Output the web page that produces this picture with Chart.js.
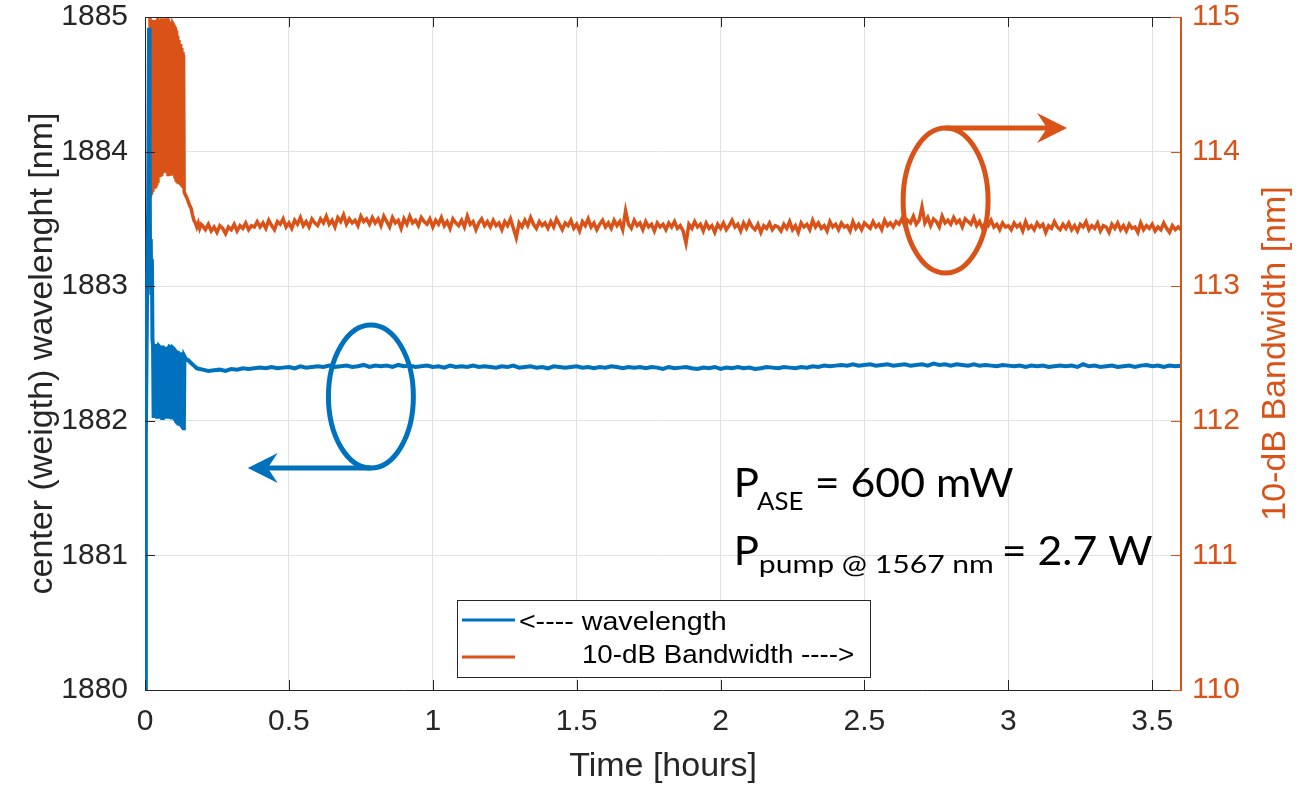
<!DOCTYPE html>
<html><head><meta charset="utf-8">
<script src="https://cdn.jsdelivr.net/npm/chart.js@4.4.0/dist/chart.umd.min.js"></script>
<style>html,body{margin:0;padding:0;background:#fff;}#wrap{width:1302px;height:787px;}</style>
</head><body><div id="wrap"><canvas id="c" width="1302" height="787"></canvas></div>
<script>
// ---------- DATA ----------
const timeWL = [0,0.003,0.007,0.011,0.014,0.016,0.018,0.020,0.022,0.024,0.026,
0.028,0.030,0.032,0.034,0.036,0.038,0.040,0.042,0.044,0.046,
0.050,0.052,0.054,0.056,0.058,0.060,0.062,0.064,0.066,0.068,0.070,0.072,0.074,0.076,0.078,0.080,0.082,0.084,
0.091,0.093,0.095,0.097,
0.102,0.104,0.106,0.108,0.110,0.112,0.114,0.116,0.118,0.120,0.122,0.124,0.126,0.128,0.130,0.132,0.134,0.135,
0.137,0.142,0.150,0.160,0.170,0.180,0.190,
0.20,0.22,0.24,0.26,0.28,0.30,0.32,0.34,0.36,0.38,0.40,0.42,0.44,0.46,0.48,0.50,0.52,0.54,0.56,0.58,0.60,0.62,0.64,0.66,0.68,
0.70,0.72,0.74,0.76,0.78,0.80,0.82,0.84,0.86,0.88,0.90,0.92,0.94,0.96,0.98,1.00,1.02,1.04,1.06,1.08,1.10,1.12,1.14,1.16,1.18,
1.20,1.22,1.24,1.26,1.28,1.30,1.32,1.34,1.36,1.38,1.40,1.42,1.44,1.46,1.48,1.50,1.52,1.54,1.56,1.58,1.60,1.62,1.64,1.66,1.68,
1.70,1.72,1.74,1.76,1.78,1.80,1.82,1.84,1.86,1.88,1.90,1.92,1.94,1.96,1.98,2.00,2.02,2.04,2.06,2.08,2.10,2.12,2.14,2.16,2.18,
2.20,2.22,2.24,2.26,2.28,2.30,2.32,2.34,2.36,2.38,2.40,2.42,2.44,2.46,2.48,2.50,2.52,2.54,2.56,2.58,2.60,2.62,2.64,2.66,2.68,
2.70,2.72,2.74,2.76,2.78,2.80,2.82,2.84,2.86,2.88,2.90,2.92,2.94,2.96,2.98,3.00,3.02,3.04,3.06,3.08,3.10,3.12,3.14,3.16,3.18,
3.20,3.22,3.24,3.26,3.28,3.30,3.32,3.34,3.36,3.38,3.40,3.42,3.44,3.46,3.48,3.50,3.52,3.54,3.56,3.58,3.60];

const wavelength = [1879.0,1881.9,1882.9,1883.6,1884.92,1884.0,1883.0,1883.35,1882.95,1883.2,1882.6,
1882.56,1882.02,1882.57,1882.03,1882.56,1882.04,1882.57,1882.03,1882.55,1882.56,
1882.55,1882.04,1882.56,1882.03,1882.55,1882.02,1882.56,1882.03,1882.55,1882.02,1882.55,1882.03,1882.54,1882.02,1882.55,1882.03,1882.54,1882.55,
1882.54,1882.01,1882.53,1882.54,
1882.53,1882.00,1882.53,1882.00,1882.52,1881.99,1882.52,1881.98,1882.51,1881.97,1882.51,1881.96,1882.50,1881.95,1882.50,1881.94,1882.49,1881.93,
1882.48,1882.46,1882.45,1882.43,1882.41,1882.39,1882.385,
1882.38,1882.37,1882.375,1882.38,1882.37,1882.385,1882.38,1882.39,1882.385,1882.39,1882.395,1882.39,1882.40,1882.39,1882.395,1882.40,1882.39,1882.405,1882.395,1882.40,1882.405,1882.40,1882.41,1882.40,1882.405,
1882.41,1882.40,1882.405,1882.415,1882.40,1882.41,1882.405,1882.41,1882.40,1882.415,1882.405,1882.41,1882.40,1882.405,1882.41,1882.40,1882.405,1882.395,1882.41,1882.40,1882.405,1882.40,1882.41,1882.40,1882.405,
1882.40,1882.395,1882.405,1882.40,1882.41,1882.395,1882.40,1882.405,1882.395,1882.40,1882.39,1882.405,1882.40,1882.395,1882.40,1882.405,1882.395,1882.40,1882.39,1882.40,1882.395,1882.405,1882.40,1882.39,1882.40,
1882.395,1882.40,1882.39,1882.40,1882.395,1882.385,1882.40,1882.39,1882.395,1882.40,1882.39,1882.385,1882.395,1882.39,1882.40,1882.385,1882.395,1882.39,1882.40,1882.39,1882.395,1882.385,1882.39,1882.40,1882.395,
1882.39,1882.40,1882.395,1882.39,1882.40,1882.395,1882.405,1882.40,1882.41,1882.405,1882.41,1882.415,1882.41,1882.42,1882.41,1882.415,1882.42,1882.41,1882.415,1882.42,1882.41,1882.415,1882.42,1882.41,1882.415,
1882.42,1882.41,1882.425,1882.415,1882.42,1882.41,1882.42,1882.415,1882.41,1882.42,1882.41,1882.415,1882.41,1882.405,1882.415,1882.41,1882.405,1882.41,1882.40,1882.41,1882.405,1882.41,1882.40,1882.405,1882.41,
1882.405,1882.41,1882.40,1882.42,1882.405,1882.41,1882.40,1882.405,1882.41,1882.40,1882.405,1882.41,1882.40,1882.41,1882.415,1882.405,1882.41,1882.40,1882.41,1882.405,1882.41];

const timeBW = [0.017,0.019,0.021,0.023,0.025,0.027,0.029,0.031,0.033,0.035,0.037,0.039,0.041,0.043,0.045,0.046,
0.050,0.052,0.054,0.056,0.058,0.060,0.062,0.064,0.066,0.068,0.070,0.072,0.074,0.076,0.078,0.080,0.082,0.084,
0.091,0.093,0.095,0.097,
0.102,0.104,0.106,0.108,0.110,0.112,0.114,0.116,0.118,0.120,0.122,0.124,0.126,0.128,0.130,0.132,0.134,0.136,
0.140,0.145,0.150,0.155,0.160,0.165,0.170,0.175,0.180,0.185,0.190,0.195,
0.20,0.21,0.22,0.23,0.24,0.25,0.26,0.27,0.28,0.29,0.30,0.31,0.32,0.33,0.34,0.35,0.36,0.37,0.38,0.39,
0.40,0.41,0.42,0.43,0.44,0.45,0.46,0.47,0.48,0.49,0.50,0.51,0.52,0.53,0.54,0.55,0.56,0.57,0.58,0.59,
0.60,0.61,0.62,0.63,0.64,0.65,0.66,0.67,0.68,0.69,0.70,0.71,0.72,0.73,0.74,0.75,0.76,0.77,0.78,0.79,
0.80,0.81,0.82,0.83,0.84,0.85,0.86,0.87,0.88,0.89,0.90,0.91,0.92,0.93,0.94,0.95,0.96,0.97,0.98,0.99,
1.00,1.01,1.02,1.03,1.04,1.05,1.06,1.07,1.08,1.09,1.10,1.11,1.12,1.13,1.14,1.15,1.16,1.17,1.18,1.19,
1.20,1.21,1.22,1.23,1.24,1.25,1.26,1.27,1.28,1.29,1.30,1.31,1.32,1.33,1.34,1.35,1.36,1.37,1.38,1.39,
1.40,1.41,1.42,1.43,1.44,1.45,1.46,1.47,1.48,1.49,1.50,1.51,1.52,1.53,1.54,1.55,1.56,1.57,1.58,1.59,
1.60,1.61,1.62,1.63,1.64,1.65,1.66,1.67,1.68,1.69,1.70,1.71,1.72,1.73,1.74,1.75,1.76,1.77,1.78,1.79,
1.80,1.81,1.82,1.83,1.84,1.85,1.86,1.87,1.88,1.89,1.90,1.91,1.92,1.93,1.94,1.95,1.96,1.97,1.98,1.99,
2.00,2.01,2.02,2.03,2.04,2.05,2.06,2.07,2.08,2.09,2.10,2.11,2.12,2.13,2.14,2.15,2.16,2.17,2.18,2.19,
2.20,2.21,2.22,2.23,2.24,2.25,2.26,2.27,2.28,2.29,2.30,2.31,2.32,2.33,2.34,2.35,2.36,2.37,2.38,2.39,
2.40,2.41,2.42,2.43,2.44,2.45,2.46,2.47,2.48,2.49,2.50,2.51,2.52,2.53,2.54,2.55,2.56,2.57,2.58,2.59,
2.60,2.61,2.62,2.63,2.64,2.65,2.66,2.67,2.68,2.69,2.70,2.71,2.72,2.73,2.74,2.75,2.76,2.77,2.78,2.79,
2.80,2.81,2.82,2.83,2.84,2.85,2.86,2.87,2.88,2.89,2.90,2.91,2.92,2.93,2.94,2.95,2.96,2.97,2.98,2.99,
3.00,3.01,3.02,3.03,3.04,3.05,3.06,3.07,3.08,3.09,3.10,3.11,3.12,3.13,3.14,3.15,3.16,3.17,3.18,3.19,
3.20,3.21,3.22,3.23,3.24,3.25,3.26,3.27,3.28,3.29,3.30,3.31,3.32,3.33,3.34,3.35,3.36,3.37,3.38,3.39,
3.40,3.41,3.42,3.43,3.44,3.45,3.46,3.47,3.48,3.49,3.50,3.51,3.52,3.53,3.54,3.55,3.56,3.57,3.58,3.59,
3.60];

const bandwidth = [115.3,113.66,114.96,113.68,114.97,113.70,114.98,113.72,114.97,113.74,114.98,113.76,114.97,113.78,114.98,114.97,
114.96,113.81,114.98,113.83,114.99,113.85,114.98,113.86,114.99,113.86,114.98,113.85,114.99,113.84,114.98,113.83,114.97,114.96,
114.95,113.82,114.94,114.95,
114.93,113.80,114.92,113.79,114.90,113.78,114.86,113.77,114.83,113.76,114.80,113.75,114.77,113.74,114.74,113.73,114.72,113.70,
113.68,113.66,113.63,113.60,113.58,113.53,113.49,113.47,113.44,113.47,113.43,113.46,
113.45,113.42,113.46,113.41,113.44,113.40,113.45,113.43,113.39,113.44,113.42,113.46,113.41,113.45,113.43,113.47,113.42,113.45,113.44,113.48,
113.44,113.47,113.43,113.49,113.45,113.42,113.48,113.46,113.50,113.44,113.47,113.43,113.49,113.46,113.51,113.45,113.48,113.44,113.50,113.47,
113.45,113.50,113.47,113.52,113.46,113.49,113.44,113.51,113.48,113.53,113.46,113.50,113.47,113.49,113.45,113.52,113.48,113.50,113.46,113.51,
113.47,113.50,113.45,113.52,113.48,113.44,113.51,113.47,113.49,113.43,113.50,113.46,113.52,113.47,113.49,113.45,113.51,113.48,113.46,113.50,
113.44,113.49,113.46,113.51,113.45,113.48,113.43,113.50,113.47,113.45,113.49,113.44,113.52,113.46,113.48,113.42,113.47,113.50,113.45,113.48,
113.44,113.49,113.45,113.47,113.42,113.48,113.45,113.50,113.43,113.36,113.47,113.44,113.49,113.45,113.51,113.46,113.43,113.48,113.45,113.47,
113.43,113.48,113.44,113.50,113.46,113.42,113.47,113.45,113.49,113.43,113.46,113.41,113.48,113.45,113.50,113.44,113.47,113.42,113.46,113.49,
113.44,113.47,113.43,113.49,113.45,113.48,113.42,113.56,113.46,113.43,113.49,113.45,113.47,113.42,113.48,113.44,113.46,113.41,113.47,113.44,
113.46,113.42,113.47,113.44,113.48,113.43,113.45,113.41,113.32,113.46,113.43,113.48,113.44,113.46,113.41,113.47,113.43,113.45,113.40,113.46,
113.43,113.47,113.42,113.45,113.49,113.44,113.46,113.41,113.47,113.43,113.48,113.44,113.42,113.46,113.40,113.45,113.43,113.47,113.42,113.45,
113.44,113.41,113.46,113.43,113.48,113.42,113.45,113.40,113.47,113.44,113.46,113.42,113.49,113.44,113.47,113.43,113.45,113.41,113.48,113.44,
113.46,113.42,113.47,113.44,113.45,113.41,113.48,113.43,113.46,113.42,113.47,113.45,113.43,113.48,113.44,113.46,113.42,113.49,113.45,113.47,
113.44,113.48,113.46,113.50,113.45,113.49,113.47,113.52,113.46,113.49,113.59,113.47,113.51,113.45,113.50,113.48,113.44,113.52,113.47,113.49,
113.46,113.51,113.47,113.49,113.44,113.50,113.48,113.46,113.51,113.45,113.48,113.43,113.47,113.45,113.49,113.44,113.46,113.42,113.47,113.44,
113.45,113.42,113.47,113.44,113.46,113.41,113.48,113.43,113.45,113.42,113.47,113.44,113.46,113.40,113.45,113.43,113.48,113.44,113.42,113.46,
113.43,113.47,113.42,113.45,113.41,113.46,113.44,113.48,113.42,113.45,113.43,113.47,113.41,113.45,113.44,113.40,113.46,113.43,113.47,113.42,
113.45,113.41,113.46,113.43,113.44,113.40,113.47,113.42,113.45,113.43,113.46,113.41,113.44,113.42,113.47,113.43,113.40,113.45,113.42,113.44,
113.42];

const xTicks = [0,0.5,1,1.5,2,2.5,3,3.5];
const yLeftTicks = [1880,1881,1882,1883,1884,1885];
const yRightTicks = [110,111,112,113,114,115];
const seriesNames = ['<---- wavelength','10-dB Bandwidth ---->'];

// ---------- STYLE ----------
const BLUE='#0072BD', ORANGE='#D95319', AXIS='#262626', GRID='#e2e2e2';
const SANS='"Liberation Sans", Arial, sans-serif';

const frameTicks = {
  id:'frameTicks',
  afterDatasetsDraw(chart){
    const {ctx, chartArea:a, scales:{x,y,y1}} = chart;
    ctx.save();
    ctx.lineWidth=1; ctx.strokeStyle=AXIS;
    ctx.beginPath();
    xTicks.forEach(v=>{const p=Math.round(x.getPixelForValue(v))+0.5;
      ctx.moveTo(p,a.bottom); ctx.lineTo(p,a.bottom-10);
      ctx.moveTo(p,a.top); ctx.lineTo(p,a.top+10);});
    yLeftTicks.forEach(v=>{const p=Math.round(y.getPixelForValue(v))+0.5;
      ctx.moveTo(a.left,p); ctx.lineTo(a.left+10,p);});
    ctx.moveTo(a.left,Math.round(a.top)+0.5); ctx.lineTo(a.right,Math.round(a.top)+0.5);
    ctx.stroke();
    ctx.strokeStyle=ORANGE; ctx.beginPath();
    yRightTicks.forEach(v=>{const p=Math.round(y1.getPixelForValue(v))+0.5;
      ctx.moveTo(a.right,p); ctx.lineTo(a.right-10,p);});
    ctx.moveTo(Math.round(a.right)-0.5,a.top); ctx.lineTo(Math.round(a.right)-0.5,a.bottom);
    ctx.stroke();
    ctx.restore();
  }
};

function fitText(ctx, text, x, baseline, font, inkWidth){
  ctx.font = font;
  const m = ctx.measureText(text);
  const w = m.actualBoundingBoxLeft + m.actualBoundingBoxRight;
  const s = inkWidth / w;
  ctx.save();
  ctx.translate(x + m.actualBoundingBoxLeft*s, baseline);
  ctx.scale(s,1);
  ctx.fillText(text,0,0);
  ctx.restore();
}
function arrowHead(ctx,tipX,tipY,dir,len,half,notch){
  ctx.beginPath();
  ctx.moveTo(tipX,tipY);
  ctx.lineTo(tipX-dir*len,tipY-half);
  ctx.lineTo(tipX-dir*notch,tipY);
  ctx.lineTo(tipX-dir*len,tipY+half);
  ctx.closePath(); ctx.fill();
}
function ringArrow(ctx, xs, ys, ring, color, fromTop, tipT){
  const cx=xs.getPixelForValue(ring.t), cy=ys.getPixelForValue(ring.v);
  const rx=xs.getPixelForValue(ring.t+ring.dt)-cx, ry=cy-ys.getPixelForValue(ring.v+ring.dv);
  ctx.save();
  ctx.strokeStyle=color; ctx.fillStyle=color; ctx.lineWidth=5;
  ctx.beginPath(); ctx.ellipse(cx,cy,rx,ry,0,0,Math.PI*2); ctx.stroke();
  const ay = fromTop ? cy-ry : cy+ry;
  const tip = xs.getPixelForValue(tipT);
  const dir = tip>cx?1:-1;
  ctx.beginPath(); ctx.moveTo(cx,ay); ctx.lineTo(tip-dir*20,ay); ctx.stroke();
  arrowHead(ctx,tip,ay,dir,30,15,20);
  ctx.restore();
}

const notes = {
  id:'notes',
  afterDraw(chart){
    const {ctx, chartArea:a, scales:{x,y,y1}} = chart;
    ringArrow(ctx,x,y,{t:0.785,v:1882.18,dt:0.1476,dv:0.531},BLUE,false,0.357);
    ringArrow(ctx,x,y1,{t:2.782,v:113.637,dt:0.1476,dv:0.539},ORANGE,true,3.204);

    // annotation text
    ctx.save();
    ctx.fillStyle='#000'; ctx.textBaseline='alphabetic';
    const L=a.left;
    const BIG='40px Lato', SUB='25px Lato';
    fitText(ctx,'P',L+592,497,BIG,21);
    fitText(ctx,'ASE',L+612,510,SUB,46);
    fitText(ctx,'= 600 mW',L+673,497,BIG,195);
    fitText(ctx,'P',L+592,565,BIG,21);
    fitText(ctx,'pump @ 1567 nm',L+615,573,SUB,232);
    fitText(ctx,'= 2.7 W',L+860,565,BIG,147);
    ctx.restore();

    // legend
    ctx.save();
    const lx=L+312, ly=a.top+583, lw=413, lh=77;
    ctx.fillStyle='#fff'; ctx.fillRect(lx,ly,lw,lh);
    ctx.strokeStyle=AXIS; ctx.lineWidth=1; ctx.strokeRect(lx+0.5,ly+0.5,lw,lh);
    ctx.lineWidth=3;
    ctx.strokeStyle=BLUE; ctx.beginPath(); ctx.moveTo(lx+5,ly+20); ctx.lineTo(lx+58,ly+20); ctx.stroke();
    ctx.strokeStyle=ORANGE; ctx.beginPath(); ctx.moveTo(lx+5,ly+57); ctx.lineTo(lx+58,ly+57); ctx.stroke();
    ctx.fillStyle='#000'; ctx.textBaseline='alphabetic';
    fitText(ctx,seriesNames[0],lx+63,ly+30,'26px '+SANS,205);
    fitText(ctx,seriesNames[1],lx+126,ly+63,'26px '+SANS,270);
    ctx.restore();

    // right axis title (reads bottom-to-top)
    ctx.save();
    ctx.translate(a.right+95,(a.top+a.bottom)/2);
    ctx.rotate(-Math.PI/2);
    ctx.fillStyle=ORANGE; ctx.font='34px '+SANS; ctx.textAlign='center'; ctx.textBaseline='middle';
    ctx.fillText('10-dB Bandwidth [nm]',0,0);
    ctx.restore();
  }
};

const ptsWL = timeWL.map((t,i)=>({x:t,y:wavelength[i]}));
const ptsBW = timeBW.map((t,i)=>({x:t,y:bandwidth[i]}));

function fixV(w){ return s=>{ s.width=w; s.paddingTop=0; s.paddingBottom=0; }; }

new Chart(document.getElementById('c'),{
  type:'line',
  data:{datasets:[
    {label:seriesNames[0],data:ptsWL,borderColor:BLUE,backgroundColor:BLUE,borderWidth:4,pointRadius:0,tension:0,yAxisID:'y'},
    {label:seriesNames[1],data:ptsBW,borderColor:ORANGE,backgroundColor:ORANGE,borderWidth:3.5,pointRadius:0,tension:0,yAxisID:'y1'}
  ]},
  options:{
    responsive:false, animation:false, devicePixelRatio:1,
    layout:{padding:{top:17,left:0,right:0,bottom:0}},
    plugins:{legend:{display:false},tooltip:{enabled:false}},
    scales:{
      x:{type:'linear',min:0,max:3.6,
        afterBuildTicks:s=>{s.ticks=xTicks.map(v=>({value:v}));},
        afterFit:s=>{s.height=97; s.paddingLeft=0; s.paddingRight=0;},
        ticks:{font:{family:SANS,size:30},color:AXIS,padding:14,maxRotation:0,autoSkip:false,callback:v=>String(v)},
        grid:{color:GRID,drawTicks:false,lineWidth:1},
        border:{color:AXIS,width:1},
        title:{display:true,text:'Time [hours]',font:{family:SANS,size:34},color:AXIS,padding:{top:0,bottom:0}}},
      y:{type:'linear',position:'left',min:1880,max:1885,
        afterBuildTicks:s=>{s.ticks=yLeftTicks.map(v=>({value:v}));},
        afterFit:fixV(145),
        ticks:{font:{family:SANS,size:30},color:AXIS,padding:17,autoSkip:false,callback:v=>String(v)},
        grid:{color:GRID,drawTicks:false,lineWidth:1},
        border:{color:AXIS,width:1},
        title:{display:true,text:'center (weigth) wavelenght [nm]',font:{family:SANS,size:34},color:AXIS,padding:{top:22,bottom:0}}},
      y1:{type:'linear',position:'right',min:110,max:115,
        afterBuildTicks:s=>{s.ticks=yRightTicks.map(v=>({value:v}));},
        afterFit:fixV(121),
        ticks:{font:{family:SANS,size:30},color:ORANGE,padding:11,autoSkip:false,callback:v=>String(v)},
        grid:{drawOnChartArea:false,drawTicks:false},
        border:{color:ORANGE,width:1}}
    }
  },
  plugins:[frameTicks,notes]
});
</script></body></html>
